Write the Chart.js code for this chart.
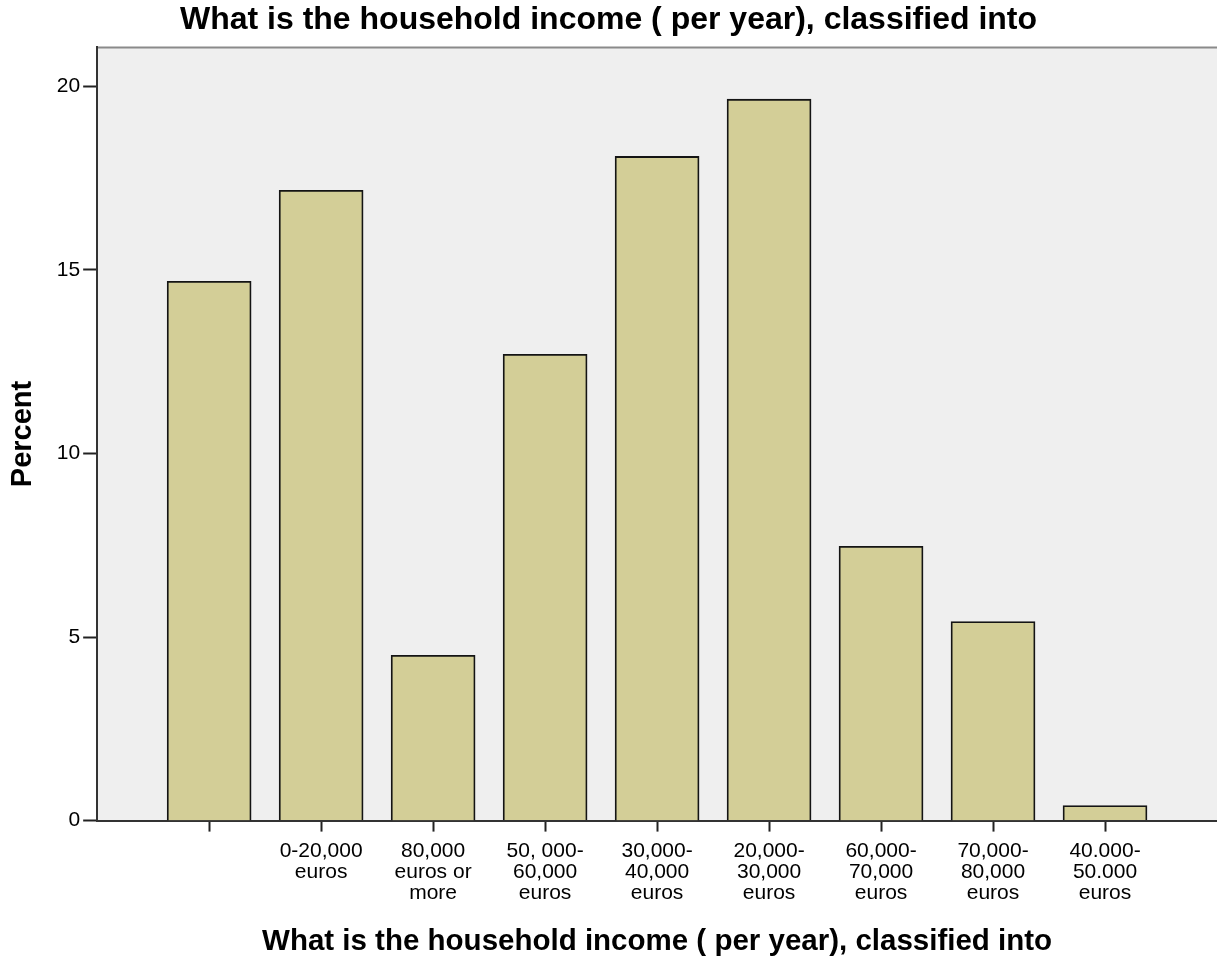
<!DOCTYPE html>
<html>
<head>
<meta charset="utf-8">
<script src="https://cdn.jsdelivr.net/npm/chart.js@4.4.0/dist/chart.umd.min.js"></script>
<style>
  html, body { margin: 0; padding: 0; background: #ffffff; }
  #wrap { width: 1217px; height: 962px; position: relative; }
</style>
</head>
<body>
<div id="wrap"><canvas id="grafico"></canvas></div>
<script>
// --- DADOS ---
const categorias = [
    [''],
    ['0-20,000', 'euros'],
    ['80,000', 'euros or', 'more'],
    ['50, 000-', '60,000', 'euros'],
    ['30,000-', '40,000', 'euros'],
    ['20,000-', '30,000', 'euros'],
    ['60,000-', '70,000', 'euros'],
    ['70,000-', '80,000', 'euros'],
    ['40.000-', '50.000', 'euros']
];
const percentuais = [14.69, 17.17, 4.5, 12.7, 18.09, 19.65, 7.47, 5.42, 0.41];
const ticksY = [0, 5, 10, 15, 20];
const titulo = 'What is the household income ( per year), classified into';

const fonte = "'Liberation Sans', Arial, sans-serif";

// fundo cinza da área do gráfico + borda superior
const fundoArea = {
    id: 'fundoArea',
    beforeDraw(chart) {
        const { ctx, chartArea: a } = chart;
        ctx.save();
        ctx.fillStyle = '#efefef';
        ctx.fillRect(a.left, a.top, a.right - a.left, a.bottom - a.top);
        ctx.strokeStyle = '#8a8a8a';
        ctx.lineWidth = 2;
        ctx.beginPath();
        ctx.moveTo(a.left, a.top);
        ctx.lineTo(a.right, a.top);
        ctx.stroke();
        ctx.restore();
    }
};

const ctx = document.getElementById('grafico').getContext('2d');

new Chart(ctx, {
    type: 'bar',
    data: {
        datasets: [{
            label: 'Percent',
            data: percentuais.map((v, i) => ({ x: i, y: v })),
            backgroundColor: '#d3ce97',
            borderColor: '#141414',
            borderWidth: 1.8,
            barThickness: 84
        }]
    },
    options: {
        responsive: true,
        maintainAspectRatio: false,
        animation: false,
        layout: { padding: 0 },
        plugins: {
            legend: { display: false },
            tooltip: { enabled: false },
            title: {
                display: true,
                text: titulo,
                color: '#000',
                font: { family: fonte, size: 32, weight: 'bold', lineHeight: 1.2 },
                padding: { top: 1, bottom: 8 }
            }
        },
        scales: {
            x: {
                type: 'linear',
                offset: false,
                min: -1,
                max: categorias.length,
                afterBuildTicks: (scale) => {
                    scale.ticks = categorias.map((_, i) => ({ value: i }));
                },
                ticks: {
                    autoSkip: false,
                    maxRotation: 0,
                    padding: 9,
                    color: '#000',
                    font: { family: fonte, size: 21, lineHeight: 1.0 },
                    callback: (v) => categorias[v]
                },
                grid: {
                    offset: false,
                    drawOnChartArea: false,
                    drawTicks: true,
                    tickLength: 11,
                    tickColor: '#222',
                    tickWidth: 2
                },
                border: { display: true, color: '#333', width: 2 },
                title: {
                    display: true,
                    text: titulo,
                    color: '#000',
                    font: { family: fonte, size: 29.5, weight: 'bold', lineHeight: 1.2 },
                    padding: { top: 12, bottom: 2 }
                }
            },
            y: {
                min: 0,
                max: 21.06,
                afterBuildTicks: (scale) => {
                    scale.ticks = ticksY.map(v => ({ value: v }));
                },
                ticks: {
                    padding: 3,
                    color: '#000',
                    font: { family: fonte, size: 21 }
                },
                grid: {
                    drawOnChartArea: false,
                    drawTicks: true,
                    tickLength: 14,
                    tickColor: '#222',
                    tickWidth: 2
                },
                border: { display: true, color: '#333', width: 2 },
                title: {
                    display: true,
                    text: 'Percent',
                    color: '#000',
                    font: { family: fonte, size: 29, weight: 'bold', lineHeight: 1.2 },
                    padding: { top: 6, bottom: 13 }
                }
            }
        }
    },
    plugins: [fundoArea]
});
</script>
</body>
</html>
